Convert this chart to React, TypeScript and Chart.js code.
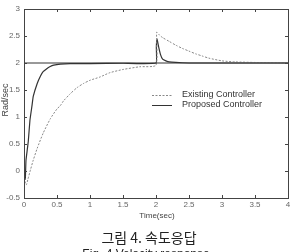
import React, { useEffect, useRef } from "react";
import { Chart, registerables } from "chart.js";

Chart.register(...registerables);

// Existing controller (dashed)
const existingTime = [0, 0.02, 0.035, 0.06, 0.1, 0.14, 0.2, 0.29, 0.4, 0.5, 0.55, 0.6, 0.7, 0.8, 0.9, 1.0, 1.15, 1.3, 1.5, 1.75, 2.0, 2.01, 2.05, 2.1, 2.2, 2.3, 2.4, 2.5, 2.6, 2.7, 2.8, 3.0, 3.2, 3.5, 4.0];
const existingValue = [0, -0.2, -0.26, -0.15, 0.03, 0.2, 0.42, 0.7, 0.97, 1.15, 1.21, 1.3, 1.43, 1.54, 1.62, 1.68, 1.74, 1.82, 1.88, 1.93, 1.96, 2.57, 2.52, 2.47, 2.4, 2.33, 2.27, 2.22, 2.17, 2.13, 2.09, 2.04, 2.02, 2.01, 2.0];

// Proposed controller (solid)
const proposedTime = [0, 0.01, 0.02, 0.03, 0.05, 0.065, 0.09, 0.12, 0.14, 0.2, 0.25, 0.29, 0.35, 0.39, 0.45, 0.55, 0.7, 1.0, 1.5, 2.0, 2.005, 2.015, 2.04, 2.07, 2.1, 2.15, 2.2, 2.3, 2.5, 3.0, 4.0];
const proposedValue = [0, -0.14, -0.15, 0.2, 0.4, 0.55, 0.94, 1.2, 1.38, 1.62, 1.76, 1.84, 1.9, 1.93, 1.96, 1.98, 1.99, 1.99, 1.995, 2.0, 2.3, 2.45, 2.3, 2.15, 2.07, 2.04, 2.02, 2.01, 2.0, 2.0, 2.0];

// Reference (set point)
const referenceTime = [0, 4];
const referenceValue = [2, 2];

const xTicks = [0, 0.5, 1, 1.5, 2, 2.5, 3, 3.5, 4];
const xTickLabels = ["0", "0.5", "1", "1.5", "2", "2.5", "3", "3.5", "4"];
const yTicks = [-0.5, 0, 0.5, 1, 1.5, 2, 2.5, 3];
const yTickLabels = ["-0.5", "0", "0.5", "1", "1.5", "2", "2.5", "3"];

const seriesNames = ["Existing Controller", "Proposed Controller"];
const xTitle = "Time(sec)";
const yTitle = "Rad/sec";
const captionKo = "그림 4. 속도응답";
const captionEn = "Fig. 4 Velocity response";

const toPoints = (t: number[], v: number[]) => t.map((x, i) => ({ x, y: v[i] }));

const framePlugin = {
  id: "frame",
  afterDraw(chart: any) {
    const { ctx, chartArea: a, scales } = chart;
    ctx.save();
    ctx.strokeStyle = "#444";
    ctx.lineWidth = 1;
    ctx.strokeRect(Math.round(a.left) + 0.5, Math.round(a.top) + 0.5, Math.round(a.right - a.left), Math.round(a.bottom - a.top));
    ctx.beginPath();
    const tl = 3;
    xTicks.forEach((v) => {
      const px = Math.round(scales.x.getPixelForValue(v)) + 0.5;
      ctx.moveTo(px, a.bottom);
      ctx.lineTo(px, a.bottom - tl);
      ctx.moveTo(px, a.top);
      ctx.lineTo(px, a.top + tl);
    });
    yTicks.forEach((v) => {
      const py = Math.round(scales.y.getPixelForValue(v)) + 0.5;
      ctx.moveTo(a.left, py);
      ctx.lineTo(a.left + tl, py);
      ctx.moveTo(a.right, py);
      ctx.lineTo(a.right - tl, py);
    });
    ctx.stroke();

    // legend
    const lx0 = 152, lx1 = 172, tx = 182;
    const rows = [95, 105];
    ctx.lineWidth = 1;
    ctx.strokeStyle = "#888";
    ctx.setLineDash([2, 1.5]);
    ctx.beginPath();
    ctx.moveTo(lx0, rows[0] + 0.5);
    ctx.lineTo(lx1, rows[0] + 0.5);
    ctx.stroke();
    ctx.setLineDash([]);
    ctx.strokeStyle = "#333";
    ctx.beginPath();
    ctx.moveTo(lx0, rows[1] + 0.5);
    ctx.lineTo(lx1, rows[1] + 0.5);
    ctx.stroke();
    ctx.fillStyle = "#333";
    ctx.font = "9px 'Liberation Sans', Arial, sans-serif";
    ctx.textAlign = "left";
    ctx.textBaseline = "middle";
    ctx.fillText(seriesNames[0], tx, rows[0]);
    ctx.fillText(seriesNames[1], tx, rows[1]);

    // axis titles
    ctx.fillStyle = "#444";
    ctx.font = "8px 'Liberation Sans', Arial, sans-serif";
    ctx.textAlign = "center";
    ctx.fillText(xTitle, 157, 216);
    ctx.save();
    ctx.translate(6, 100);
    ctx.rotate(-Math.PI / 2);
    ctx.font = "9px 'Liberation Sans', Arial, sans-serif";
    ctx.fillText(yTitle, 0, 0);
    ctx.restore();

    // captions
    ctx.fillStyle = "#222";
    ctx.font = "14px 'Noto Sans CJK KR', sans-serif";
    ctx.textAlign = "center";
    ctx.fillText(captionKo, 149, 238);
    ctx.font = "12px 'Liberation Sans', Arial, sans-serif";
    ctx.textBaseline = "top";
    ctx.fillText(captionEn, 146, 249);
    ctx.restore();
  },
};

export default function App() {
  const ref = useRef<HTMLCanvasElement>(null);
  useEffect(() => {
    if (!ref.current) return;
    const chart = new Chart(ref.current, {
      type: "line",
      data: {
        datasets: [
          {
            label: "Reference",
            data: toPoints(referenceTime, referenceValue),
            borderColor: "#333",
            borderWidth: 1,
            pointRadius: 0,
            tension: 0,
          },
          {
            label: seriesNames[0],
            data: toPoints(existingTime, existingValue),
            borderColor: "#888",
            borderWidth: 1,
            borderDash: [2, 1.5],
            pointRadius: 0,
            tension: 0.2,
          },
          {
            label: seriesNames[1],
            data: toPoints(proposedTime, proposedValue),
            borderColor: "#333",
            borderWidth: 1.2,
            pointRadius: 0,
            tension: 0.1,
          },
        ],
      },
      options: {
        responsive: false,
        animation: false,
        devicePixelRatio: 1,
        layout: { padding: { top: 9, right: 7, left: 0, bottom: 0 } },
        plugins: { legend: { display: false }, tooltip: { enabled: false } },
        scales: {
          x: {
            type: "linear",
            min: 0,
            max: 4,
            grid: { display: false, drawTicks: false },
            border: { display: false },
            afterBuildTicks: (s: any) => {
              s.ticks = xTicks.map((v) => ({ value: v }));
            },
            afterFit: (s: any) => {
              s.height = 54;
            },
            ticks: {
              padding: 2,
              autoSkip: false,
              maxRotation: 0,
              color: "#666",
              font: { size: 8, family: "'Liberation Sans', Arial, sans-serif" },
              callback: (v: any) => xTickLabels[xTicks.indexOf(Number(v))] ?? "",
            },
          },
          y: {
            type: "linear",
            min: -0.5,
            max: 3,
            grid: { display: false, drawTicks: false },
            border: { display: false },
            afterBuildTicks: (s: any) => {
              s.ticks = yTicks.map((v) => ({ value: v }));
            },
            afterFit: (s: any) => {
              s.width = 24;
            },
            ticks: {
              padding: 4,
              autoSkip: false,
              color: "#666",
              font: { size: 8, family: "'Liberation Sans', Arial, sans-serif" },
              callback: (v: any) => yTickLabels[yTicks.indexOf(Number(v))] ?? "",
            },
          },
        },
      },
      plugins: [framePlugin],
    });
    return () => chart.destroy();
  }, []);
  return (
    <div style={{ position: "fixed", left: 0, top: 0, width: 295, height: 252, background: "#fff" }}>
      <canvas ref={ref} width={295} height={252} style={{ display: "block", width: 295, height: 252 }} />
    </div>
  );
}
